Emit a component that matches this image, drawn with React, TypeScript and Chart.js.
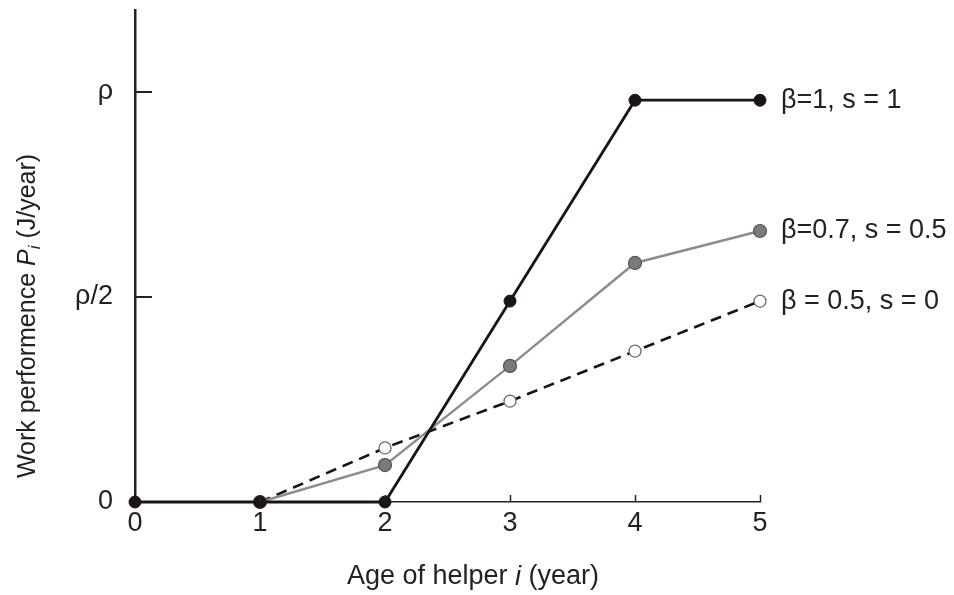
import { useEffect, useRef } from "react";
import { Chart, registerables } from "chart.js";

Chart.register(...registerables);

// Age of helper (years)
const ages = [0, 1, 2, 3, 4, 5];

// Work performance in units of ρ, one list per parameter set
const fullSeries: (number | null)[] = [0, 0, 0, 0.49, 0.98, 0.98];
const partialSeries: (number | null)[] = [null, 0, 0.09, 0.332, 0.583, 0.661];
const zeroSeries: (number | null)[] = [null, 0, 0.132, 0.246, 0.368, 0.49];

const seriesNames = ["β=1, s = 1", "β=0.7, s = 0.5", "β = 0.5, s = 0"];

const xTickValues = [0, 1, 2, 3, 4, 5];
const yTickValues = [0, 0.5, 1];
const yTickLabels = ["0", "ρ/2", "ρ"];

const FONT = '"Liberation Sans", Arial, Helvetica, sans-serif';
const INK = "#222222";

type Seg = { t: string; italic?: boolean; sub?: boolean };

function toPoints(values: (number | null)[]) {
  const pts: { x: number; y: number }[] = [];
  values.forEach((v, i) => {
    if (v !== null) pts.push({ x: ages[i], y: v });
  });
  return pts;
}

function drawRich(ctx: CanvasRenderingContext2D, segs: Seg[], size: number, cx: number, cy: number) {
  const fontOf = (s: Seg) =>
    `${s.italic ? "italic " : ""}${s.sub ? Math.round(size * 0.68) : size}px ${FONT}`;
  let total = 0;
  segs.forEach((s) => {
    ctx.font = fontOf(s);
    total += ctx.measureText(s.t).width;
  });
  let x = cx - total / 2;
  ctx.textAlign = "left";
  ctx.textBaseline = "middle";
  segs.forEach((s) => {
    ctx.font = fontOf(s);
    ctx.fillText(s.t, x, cy + (s.sub ? size * 0.3 : 0));
    x += ctx.measureText(s.t).width;
  });
}

const decorations = {
  id: "decorations",
  afterDraw(chart: any) {
    const { ctx, chartArea, scales } = chart;
    const x = scales.x;
    const y = scales.y;
    ctx.save();

    // tick marks drawn inward from the axes
    ctx.strokeStyle = INK;
    ctx.lineWidth = 1.5;
    xTickValues.slice(1).forEach((v) => {
      const px = Math.round(x.getPixelForValue(v)) + 0.5;
      ctx.beginPath();
      ctx.moveTo(px, chartArea.bottom);
      ctx.lineTo(px, chartArea.bottom - 7);
      ctx.stroke();
    });
    ctx.lineWidth = 2;
    yTickValues.slice(1).forEach((v) => {
      const py = Math.round(y.getPixelForValue(v));
      ctx.beginPath();
      ctx.moveTo(chartArea.left, py);
      ctx.lineTo(chartArea.left + 17, py);
      ctx.stroke();
    });

    // series labels beside each line end
    ctx.fillStyle = INK;
    ctx.font = `27px ${FONT}`;
    ctx.textAlign = "left";
    ctx.textBaseline = "middle";
    chart.data.datasets.forEach((ds: any, i: number) => {
      const last = ds.data[ds.data.length - 1];
      ctx.fillText(seriesNames[i], x.getPixelForValue(last.x) + 21, y.getPixelForValue(last.y));
    });

    // axis titles
    drawRich(
      ctx,
      [{ t: "Age of helper " }, { t: "i", italic: true }, { t: " (year)" }],
      27,
      473,
      577
    );
    ctx.save();
    ctx.translate(28, 316);
    ctx.rotate(-Math.PI / 2);
    drawRich(
      ctx,
      [
        { t: "Work performence " },
        { t: "P", italic: true },
        { t: "i", italic: true, sub: true },
        { t: " (J/year)" },
      ],
      25,
      0,
      0
    );
    ctx.restore();

    ctx.restore();
  },
};

export default function App() {
  const canvasRef = useRef<HTMLCanvasElement | null>(null);

  useEffect(() => {
    if (!canvasRef.current) return;
    const chart = new Chart(canvasRef.current, {
      type: "line",
      data: {
        datasets: [
          {
            label: seriesNames[0],
            data: toPoints(fullSeries),
            borderColor: "#1c1414",
            borderWidth: 2.8,
            pointRadius: 6,
            pointBackgroundColor: "#1c1414",
            pointBorderColor: "#1c1414",
            pointBorderWidth: 1,
            clip: false,
          },
          {
            label: seriesNames[1],
            data: toPoints(partialSeries),
            borderColor: "#8c8c8c",
            borderWidth: 2.4,
            pointRadius: 6.5,
            pointBackgroundColor: "#7a7a7a",
            pointBorderColor: "#555555",
            pointBorderWidth: 1.2,
            clip: false,
          },
          {
            label: seriesNames[2],
            data: toPoints(zeroSeries),
            borderColor: "#151515",
            borderWidth: 2.6,
            borderDash: [11, 7],
            pointRadius: 6,
            pointBackgroundColor: "#ffffff",
            pointBorderColor: "#6a6a6a",
            pointBorderWidth: 1.3,
            clip: false,
          },
        ],
      },
      options: {
        animation: false,
        responsive: true,
        maintainAspectRatio: false,
        layout: { padding: { left: 0, right: 194, top: 10, bottom: 0 } },
        plugins: {
          legend: { display: false },
          tooltip: { enabled: false },
        },
        scales: {
          x: {
            type: "linear",
            min: 0,
            max: 5,
            afterBuildTicks: (s: any) => {
              s.ticks = xTickValues.map((v) => ({ value: v }));
            },
            afterFit: (s: any) => {
              s.height = 93;
              s.paddingLeft = 0;
              s.paddingRight = 0;
            },
            grid: { display: true, drawOnChartArea: false, drawTicks: false },
            border: { display: true, color: INK, width: 1.5 },
            ticks: {
              padding: 5,
              color: INK,
              font: { family: FONT, size: 27 },
              maxRotation: 0,
              autoSkip: false,
            },
          },
          y: {
            type: "linear",
            min: 0,
            max: 1.2,
            afterBuildTicks: (s: any) => {
              s.ticks = yTickValues.map((v) => ({ value: v }));
            },
            afterFit: (s: any) => {
              s.width = 135;
              s.paddingTop = 0;
              s.paddingBottom = 0;
            },
            grid: { display: true, drawOnChartArea: false, drawTicks: false },
            border: { display: true, color: INK, width: 2.5 },
            ticks: {
              padding: 22,
              color: INK,
              font: { family: FONT, size: 27 },
              autoSkip: false,
              callback: (v: any) => {
                const i = yTickValues.indexOf(Number(v));
                return i >= 0 ? yTickLabels[i] : "";
              },
            },
          },
        },
      },
      plugins: [decorations],
    });
    return () => chart.destroy();
  }, []);

  return (
    <div style={{ position: "fixed", left: 0, top: 0, width: 954, height: 595, background: "#ffffff" }}>
      <canvas ref={canvasRef} />
    </div>
  );
}
